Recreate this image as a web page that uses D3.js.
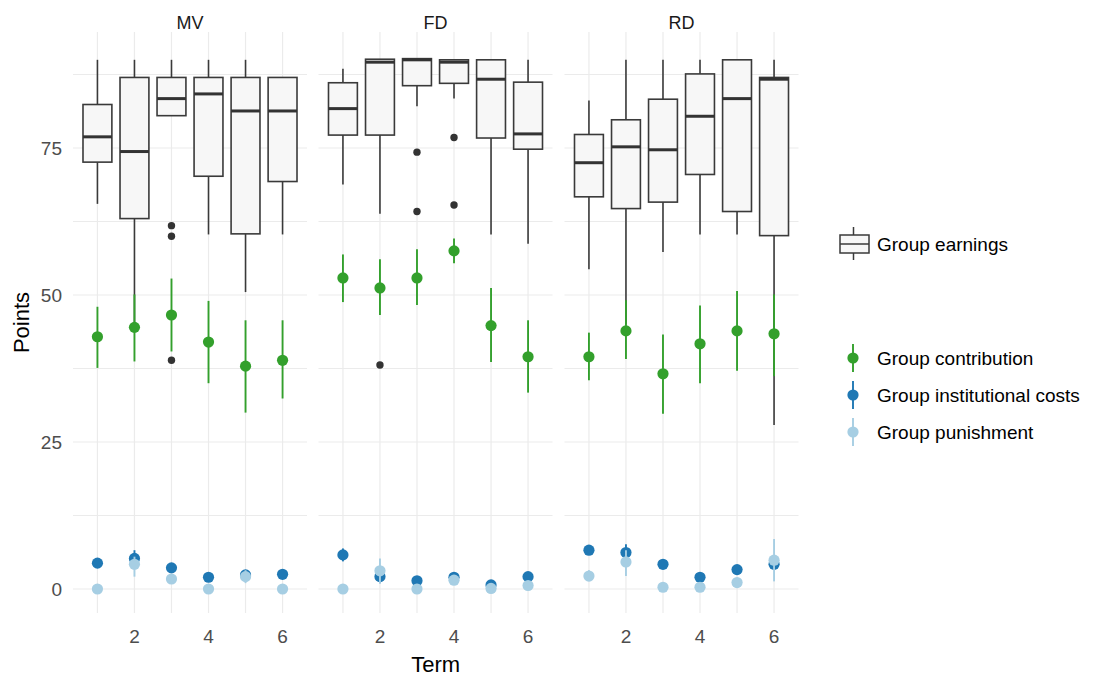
<!DOCTYPE html>
<meta charset="utf-8">
<style>
    body { margin: 0; background: #fff; }
    text { font-family: Arial, 'Liberation Sans', sans-serif; }
    .grid line { stroke: #ebebeb; stroke-width: 1.2; }
    .tick-label { fill: #4d4d4d; font-size: 19px; }
    .strip { fill: #1a1a1a; font-size: 18px; }
    .axis-title { fill: #000; font-size: 22px; }
    .legend-text { fill: #000; font-size: 19px; }
</style>
<body>
<script src="https://cdn.jsdelivr.net/npm/d3@7"></script>
<script>
    var panels = ["MV", "FD", "RD"];
    var terms = [1, 2, 3, 4, 5, 6];
    var yTicks = [0, 25, 50, 75];
    var yMinor = [12.5, 37.5, 62.5, 87.5];
    var xTicks = [2, 4, 6];

    // group earnings boxplots, one row per panel
    var earnWhiskLo = [
        [65.5, 45.0, 80.5, 60.3, 50.5, 60.3],
        [68.8, 63.8, 82.1, 83.4, 60.3, 58.7],
        [54.4, 45.0, 57.3, 60.3, 60.3, 27.9]];
    var earnQ1 = [
        [72.6, 63.0, 80.5, 70.2, 60.4, 69.3],
        [77.2, 77.2, 85.6, 86.0, 76.7, 74.8],
        [66.7, 64.7, 65.8, 70.5, 64.2, 60.1]];
    var earnMed = [
        [76.9, 74.4, 83.4, 84.2, 81.3, 81.3],
        [81.7, 89.6, 90.0, 89.6, 86.7, 77.4],
        [72.5, 75.2, 74.7, 80.4, 83.4, 86.7]];
    var earnQ3 = [
        [82.4, 87.0, 87.0, 87.0, 87.0, 87.0],
        [86.1, 90.1, 90.2, 90.0, 90.0, 86.2],
        [77.3, 79.8, 83.3, 87.6, 90.0, 87.0]];
    var earnWhiskHi = [
        [90.0, 90.0, 90.0, 90.0, 90.0, 87.0],
        [88.5, 90.1, 90.2, 90.0, 90.0, 90.0],
        [83.1, 90.0, 90.0, 90.0, 90.0, 90.0]];
    // [panel index, term, value]
    var earnOutliers = [
        [0, 3, 61.8], [0, 3, 60.0], [0, 3, 38.9],
        [1, 2, 38.1], [1, 3, 74.3], [1, 3, 64.2], [1, 4, 76.8], [1, 4, 65.3]];

    var contribMean = [
        [42.9, 44.5, 46.6, 42.0, 37.9, 38.9],
        [52.9, 51.2, 52.9, 57.5, 44.8, 39.5],
        [39.5, 43.9, 36.6, 41.7, 43.9, 43.4]];
    var contribLo = [
        [37.6, 38.7, 40.4, 35.0, 30.0, 32.4],
        [48.8, 46.6, 48.3, 55.4, 38.6, 33.4],
        [35.5, 39.1, 29.8, 35.0, 37.1, 36.2]];
    var contribHi = [
        [48.0, 50.1, 52.8, 49.0, 45.7, 45.7],
        [56.9, 56.1, 57.8, 59.6, 51.2, 45.7],
        [43.6, 49.1, 43.3, 48.2, 50.7, 50.1]];

    var costMean = [
        [4.4, 5.2, 3.6, 2.0, 2.4, 2.5],
        [5.8, 2.1, 1.4, 2.0, 0.7, 2.1],
        [6.6, 6.2, 4.2, 2.0, 3.3, 4.2]];
    var costLo = [
        [3.8, 4.2, 3.0, 1.5, 1.8, 2.0],
        [4.7, 1.0, 0.9, 1.5, 0.2, 1.6],
        [6.0, 5.0, 3.6, 1.5, 2.7, 3.5]];
    var costHi = [
        [5.0, 6.6, 4.2, 2.5, 3.0, 3.0],
        [6.9, 3.2, 1.9, 2.5, 1.2, 2.6],
        [7.2, 7.6, 4.8, 2.5, 3.9, 4.9]];

    var punMean = [
        [0.0, 4.2, 1.7, 0.0, 2.1, 0.0],
        [0.0, 3.1, 0.0, 1.5, 0.1, 0.6],
        [2.2, 4.6, 0.3, 0.3, 1.1, 4.9]];
    var punLo = [
        [0.0, 2.1, 0.9, 0.0, 1.0, 0.0],
        [0.0, 1.0, 0.0, 1.0, 0.0, 0.2],
        [1.4, 2.2, 0.1, 0.1, 0.7, 1.3]];
    var punHi = [
        [0.0, 5.5, 2.5, 0.0, 3.2, 0.0],
        [0.0, 5.2, 0.0, 2.0, 0.4, 1.0],
        [3.2, 6.6, 0.5, 0.5, 1.5, 8.5]];

    var seriesNames = ["Group contribution", "Group institutional costs", "Group punishment"];
    var seriesColors = ["#33a02c", "#1f78b4", "#a6cee3"];

    var width = 1095, height = 680;
    var panelX = [73, 318.5, 564.5], panelW = 234;
    var plotTop = 32, plotBottom = 613;
    var boxStroke = "#3a3a3a";

    var svg = d3.select("body").append("svg")
        .attr("width", width)
        .attr("height", height);

    var x = d3.scaleLinear().domain([0.34, 6.66]).range([0, panelW]);
    var y = d3.scaleLinear().domain([-4.08, 94.73]).range([plotBottom, plotTop]);
    var boxHalf = 0.39;

    panels.forEach(function(name, p) {
        var g = svg.append("g").attr("transform", "translate(" + panelX[p] + ",0)");

        var grid = g.append("g").attr("class", "grid");
        grid.selectAll(".h").data(yTicks.concat(yMinor)).enter().append("line")
            .attr("x1", 0).attr("x2", panelW)
            .attr("y1", function(d) { return y(d); })
            .attr("y2", function(d) { return y(d); });
        grid.selectAll(".v").data(terms).enter().append("line")
            .attr("y1", plotTop).attr("y2", plotBottom)
            .attr("x1", function(d) { return x(d); })
            .attr("x2", function(d) { return x(d); });

        g.append("text").attr("class", "strip")
            .attr("x", panelW / 2).attr("y", 29)
            .attr("text-anchor", "middle")
            .text(name);

        g.selectAll(".xlab").data(xTicks).enter().append("text")
            .attr("class", "tick-label")
            .attr("x", function(d) { return x(d); })
            .attr("y", 643)
            .attr("text-anchor", "middle")
            .text(function(d) { return d; });

        // boxplots
        var box = g.selectAll(".box").data(terms).enter().append("g").attr("class", "box");
        box.append("line")
            .attr("x1", function(d) { return x(d); }).attr("x2", function(d) { return x(d); })
            .attr("y1", function(d, i) { return y(earnWhiskHi[p][i]); })
            .attr("y2", function(d, i) { return y(earnQ3[p][i]); })
            .attr("stroke", boxStroke).attr("stroke-width", 1.6);
        box.append("line")
            .attr("x1", function(d) { return x(d); }).attr("x2", function(d) { return x(d); })
            .attr("y1", function(d, i) { return y(earnQ1[p][i]); })
            .attr("y2", function(d, i) { return y(earnWhiskLo[p][i]); })
            .attr("stroke", boxStroke).attr("stroke-width", 1.6);
        box.append("rect")
            .attr("x", function(d) { return x(d - boxHalf); })
            .attr("width", function(d) { return x(d + boxHalf) - x(d - boxHalf); })
            .attr("y", function(d, i) { return y(earnQ3[p][i]); })
            .attr("height", function(d, i) { return y(earnQ1[p][i]) - y(earnQ3[p][i]); })
            .attr("fill", "#f7f7f7").attr("stroke", boxStroke).attr("stroke-width", 1.6);
        box.append("line")
            .attr("x1", function(d) { return x(d - boxHalf); })
            .attr("x2", function(d) { return x(d + boxHalf); })
            .attr("y1", function(d, i) { return y(earnMed[p][i]); })
            .attr("y2", function(d, i) { return y(earnMed[p][i]); })
            .attr("stroke", "#333").attr("stroke-width", 3);

        g.selectAll(".outlier").data(earnOutliers.filter(function(o) { return o[0] === p; }))
            .enter().append("circle")
            .attr("cx", function(d) { return x(d[1]); })
            .attr("cy", function(d) { return y(d[2]); })
            .attr("r", 3.7)
            .attr("fill", "#333");

        // point ranges
        var series = [
            [contribMean, contribLo, contribHi],
            [costMean, costLo, costHi],
            [punMean, punLo, punHi]];
        series.forEach(function(s, k) {
            var pr = g.selectAll(".pr" + k).data(terms).enter().append("g");
            pr.append("line")
                .attr("x1", function(d) { return x(d); }).attr("x2", function(d) { return x(d); })
                .attr("y1", function(d, i) { return y(s[1][p][i]); })
                .attr("y2", function(d, i) { return y(s[2][p][i]); })
                .attr("stroke", seriesColors[k]).attr("stroke-width", 1.9);
            pr.append("circle")
                .attr("cx", function(d) { return x(d); })
                .attr("cy", function(d, i) { return y(s[0][p][i]); })
                .attr("r", 5.6)
                .attr("fill", seriesColors[k]);
        });
    });

    // y axis labels
    svg.selectAll(".ylab").data(yTicks).enter().append("text")
        .attr("class", "tick-label")
        .attr("x", 62)
        .attr("y", function(d) { return y(d); })
        .attr("dy", "0.35em")
        .attr("text-anchor", "end")
        .text(function(d) { return d; });

    svg.append("text").attr("class", "axis-title")
        .attr("transform", "translate(29," + (plotTop + plotBottom) / 2 + ") rotate(-90)")
        .attr("text-anchor", "middle")
        .text("Points");

    svg.append("text").attr("class", "axis-title")
        .attr("x", (panelX[0] + panelX[2] + panelW) / 2)
        .attr("y", 672)
        .attr("text-anchor", "middle")
        .text("Term");

    // legend: boxplot
    var lg = svg.append("g");
    lg.append("line").attr("x1", 853.5).attr("x2", 853.5).attr("y1", 227).attr("y2", 260)
        .attr("stroke", boxStroke).attr("stroke-width", 1.5);
    lg.append("rect").attr("x", 840).attr("y", 235).attr("width", 29).attr("height", 18)
        .attr("fill", "#f7f7f7").attr("stroke", boxStroke).attr("stroke-width", 1.5);
    lg.append("line").attr("x1", 840).attr("x2", 869).attr("y1", 244).attr("y2", 244)
        .attr("stroke", boxStroke).attr("stroke-width", 1.5);
    lg.append("text").attr("class", "legend-text")
        .attr("x", 877).attr("y", 244).attr("dy", "0.35em")
        .text("Group earnings");

    // legend: point ranges
    var keys = svg.selectAll(".key").data(seriesNames).enter().append("g")
        .attr("transform", function(d, i) { return "translate(0," + (358 + i * 37) + ")"; });
    keys.append("line").attr("x1", 853).attr("x2", 853).attr("y1", -14).attr("y2", 14)
        .attr("stroke", function(d, i) { return seriesColors[i]; }).attr("stroke-width", 1.9);
    keys.append("circle").attr("cx", 853).attr("cy", 0).attr("r", 5.6)
        .attr("fill", function(d, i) { return seriesColors[i]; });
    keys.append("text").attr("class", "legend-text")
        .attr("x", 877).attr("y", 0).attr("dy", "0.35em")
        .text(function(d) { return d; });
</script>
